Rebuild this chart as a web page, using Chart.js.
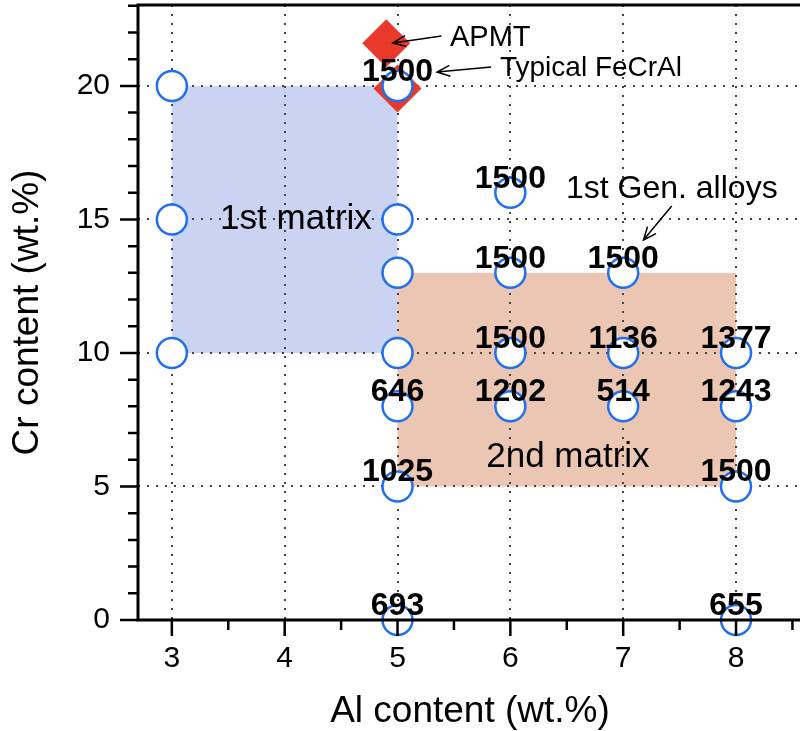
<!DOCTYPE html>
<html>
<head>
<meta charset="utf-8">
<script src="https://cdn.jsdelivr.net/npm/chart.js@4/dist/chart.umd.min.js"></script>
<style>
  html, body { margin: 0; padding: 0; background: #fff; }
</style>
</head>
<body>
<canvas id="chartAleaciones" width="800" height="731"></canvas>
<script>
// ===============================
// DATOS
// ===============================
const alContent = [3, 3, 3, 5, 5, 5, 5, 5, 5, 5, 6, 6, 6, 6, 7, 7, 7, 8, 8, 8, 8];
const crContent = [20, 15, 10, 20, 15, 13, 10, 8, 5, 0, 16, 13, 10, 8, 13, 10, 8, 10, 8, 5, 0];
const pointLabels = ["", "", "", "1500", "", "", "", "646", "1025", "693",
                     "1500", "1500", "1500", "1202", "1500", "1136", "514",
                     "1377", "1243", "1500", "655"];

const refNames = ["APMT", "Typical FeCrAl"];
const refAl = [4.9, 5.0];
const refCr = [21.6, 19.9];

const matrixNames = ["1st matrix", "2nd matrix"];
const matrixAlFrom = [3, 5];
const matrixAlTo = [5, 8];
const matrixCrFrom = [10, 5];
const matrixCrTo = [20, 13];

const xTicks = [3, 4, 5, 6, 7, 8];
const yTicks = [0, 5, 10, 15, 20];

// ===============================
// ESTILO / ANOTACIONES
// ===============================
const FONT = '"Liberation Sans", Helvetica, Arial, sans-serif';
const matrixColors = ["#cad3f2", "#eac6b3"];
const matrixTextPos = [[4.1, 15], [6.51, 6.1]];

const notes = [
    { text: "APMT", at: [5.465, 21.8], size: 29, from: [5.39, 21.87], to: [4.96, 21.61] },
    { text: "Typical FeCrAl", at: [5.908, 20.67], size: 28, from: [5.83, 20.71], to: [5.35, 20.52] },
    { text: "1st Gen. alloys", at: [6.493, 16.15], size: 32, from: [7.43, 15.5], to: [7.18, 14.23] }
];

function drawArrow(ctx, x1, y1, x2, y2) {
    const a = Math.atan2(y2 - y1, x2 - x1);
    const h = 14, w = 0.4;
    ctx.beginPath();
    ctx.moveTo(x1, y1);
    ctx.lineTo(x2, y2);
    ctx.moveTo(x2 - h * Math.cos(a - w), y2 - h * Math.sin(a - w));
    ctx.lineTo(x2, y2);
    ctx.lineTo(x2 - h * Math.cos(a + w), y2 - h * Math.sin(a + w));
    ctx.stroke();
}

const decor = {
    id: "decor",
    beforeDraw(chart) {
        const { ctx, scales: { x, y } } = chart;
        ctx.save();
        matrixNames.forEach((n, i) => {
            const x0 = x.getPixelForValue(matrixAlFrom[i]);
            const x1 = x.getPixelForValue(matrixAlTo[i]);
            const y0 = y.getPixelForValue(matrixCrTo[i]);
            const y1 = y.getPixelForValue(matrixCrFrom[i]);
            ctx.fillStyle = matrixColors[i];
            ctx.fillRect(x0, y0, x1 - x0, y1 - y0);
        });
        ctx.restore();
    },
    afterDatasetsDraw(chart) {
        const { ctx, chartArea: area, scales: { x, y } } = chart;
        ctx.save();
        ctx.strokeStyle = "#000";
        ctx.fillStyle = "#000";

        // ejes
        ctx.lineWidth = 3;
        ctx.beginPath();
        ctx.moveTo(area.left, area.top);
        ctx.lineTo(area.right, area.top);
        ctx.moveTo(area.left, area.top - 1.5);
        ctx.lineTo(area.left, area.bottom + 1.5);
        ctx.moveTo(area.left - 1.5, area.bottom);
        ctx.lineTo(area.right, area.bottom);
        ctx.stroke();

        // marcas
        ctx.lineWidth = 2.5;
        ctx.beginPath();
        for (let v = 0; v <= 23; v++) {
            const py = y.getPixelForValue(v);
            const len = v % 5 === 0 ? 18 : 10;
            ctx.moveTo(area.left - len, py);
            ctx.lineTo(area.left, py);
        }
        for (let v = 3; v <= 8.5; v += 0.5) {
            const px = x.getPixelForValue(v);
            const len = Number.isInteger(v) ? 16 : 10;
            ctx.moveTo(px, area.bottom);
            ctx.lineTo(px, area.bottom + len);
        }
        ctx.stroke();

        // valores sobre los puntos
        ctx.font = "bold 32px " + FONT;
        ctx.textAlign = "center";
        ctx.textBaseline = "alphabetic";
        pointLabels.forEach((t, i) => {
            if (!t) return;
            ctx.fillText(t, x.getPixelForValue(alContent[i]), y.getPixelForValue(crContent[i]) - 5);
        });

        // textos de matrices
        ctx.font = "35px " + FONT;
        ctx.textBaseline = "middle";
        matrixNames.forEach((n, i) => {
            ctx.fillText(n, x.getPixelForValue(matrixTextPos[i][0]), y.getPixelForValue(matrixTextPos[i][1]));
        });

        // notas con flechas
        ctx.textAlign = "left";
        ctx.lineWidth = 1.5;
        notes.forEach(n => {
            ctx.font = n.size + "px " + FONT;
            ctx.fillText(n.text, x.getPixelForValue(n.at[0]), y.getPixelForValue(n.at[1]));
            drawArrow(ctx,
                x.getPixelForValue(n.from[0]), y.getPixelForValue(n.from[1]),
                x.getPixelForValue(n.to[0]), y.getPixelForValue(n.to[1]));
        });

        // títulos de ejes
        ctx.font = "37px " + FONT;
        ctx.textAlign = "center";
        ctx.fillText("Al content (wt.%)", 470, 712);
        ctx.translate(28, (area.top + area.bottom) / 2);
        ctx.rotate(-Math.PI / 2);
        ctx.fillText("Cr content (wt.%)", 0, 0);
        ctx.restore();
    }
};

// ===============================
// GRÁFICO DE DISPERSIÓN
// ===============================
new Chart(document.getElementById("chartAleaciones"), {
    type: "scatter",
    data: {
        datasets: [
            {
                label: "Alloys",
                data: alContent.map((v, i) => ({ x: v, y: crContent[i] })),
                pointRadius: 15,
                pointBorderWidth: 2.5,
                pointBorderColor: "#1f6ff0",
                pointBackgroundColor: "#ffffff",
                clip: false
            },
            {
                label: "Reference",
                data: refAl.map((v, i) => ({ x: v, y: refCr[i] })),
                pointStyle: "rectRot",
                pointRadius: 24,
                pointBorderWidth: 0,
                pointBackgroundColor: "#e8392b",
                clip: false
            }
        ]
    },
    options: {
        responsive: false,
        animation: false,
        layout: { autoPadding: false, padding: { top: 5, right: 0, left: 0, bottom: 0 } },
        plugins: {
            legend: { display: false },
            tooltip: { enabled: false }
        },
        scales: {
            x: {
                type: "linear",
                min: 2.7,
                max: 8.567,
                afterBuildTicks: s => { s.ticks = xTicks.map(v => ({ value: v })); },
                afterFit: s => { s.height = 111; s.paddingLeft = 0; s.paddingRight = 0; },
                grid: { color: "#444", lineWidth: 2, drawTicks: false },
                border: { display: false, dash: [2, 7] },
                ticks: { color: "#000", padding: 21, font: { family: FONT, size: 30 } }
            },
            y: {
                type: "linear",
                min: 0,
                max: 23.03,
                afterBuildTicks: s => { s.ticks = yTicks.map(v => ({ value: v })); },
                afterFit: s => { s.width = 138; s.paddingTop = 0; s.paddingBottom = 0; },
                grid: { color: "#444", lineWidth: 2, drawTicks: false },
                border: { display: false, dash: [2, 7] },
                ticks: { color: "#000", padding: 28, font: { family: FONT, size: 30 } }
            }
        }
    },
    plugins: [decor]
});
</script>
</body>
</html>
